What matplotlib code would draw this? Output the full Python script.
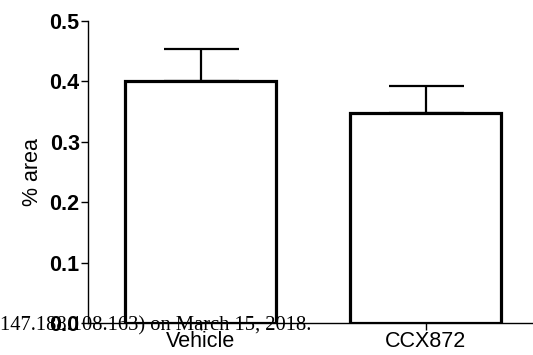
import matplotlib.pyplot as plt

groups = ['Vehicle', 'CCX872']
means = [0.40, 0.348]
sem = [0.054, 0.044]
yticks = [0.0, 0.1, 0.2, 0.3, 0.4, 0.5]

plt.rcParams['font.family'] = ['Liberation Sans', 'DejaVu Sans']

fig = plt.figure(figsize=(5.33, 3.55), dpi=100)
ax = fig.add_axes([88 / 533, (355 - 323) / 355, 450 / 533, 302 / 355])

x = range(len(groups))
ax.bar(x, means, width=0.67, color='white', edgecolor='black', linewidth=2.3, zorder=2)
ax.errorbar(x, means, yerr=[[0] * len(sem), sem], fmt='none', ecolor='black',
            elinewidth=1.6, capsize=27, capthick=1.6, zorder=1)

ax.set_xlim(-0.5, 1.5)
ax.set_ylim(0, 0.5)
ax.set_xticks(list(x))
ax.set_xticklabels(groups, fontsize=15.5)
ax.set_yticks(yticks)
ax.set_yticklabels([f'{v:.1f}' for v in yticks], fontsize=15.5, fontweight='bold')
ax.set_ylabel('% area', fontsize=15.5, labelpad=5)
ax.tick_params(axis='both', length=5, width=1, pad=1)

ax.spines['top'].set_visible(False)
ax.spines['right'].set_visible(False)
for s in ('left', 'bottom'):
    ax.spines[s].set_linewidth(1)

# watermark line left over from the source page
fig.text(0, (355 - 326) / 355, '147.188.108.163) on March 15, 2018.',
         family=['Liberation Serif'], fontsize=14.8, va='center', ha='left')

fig.savefig('out.png', dpi=100)
